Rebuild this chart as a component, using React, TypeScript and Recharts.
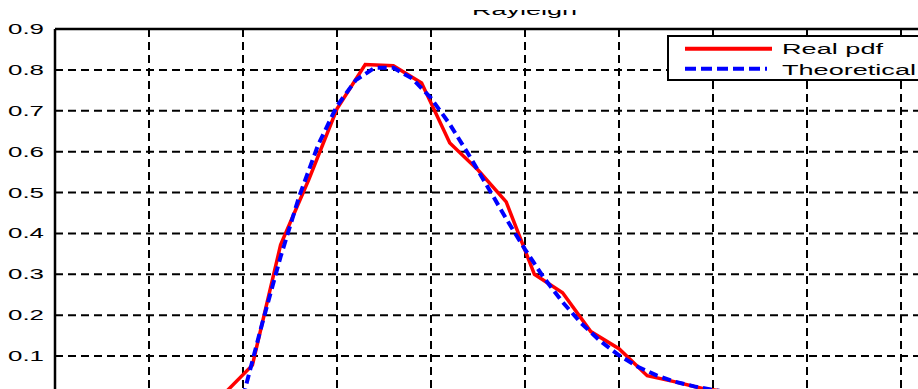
import React from 'react';
import { LineChart, Line, XAxis, YAxis, CartesianGrid, ReferenceLine } from 'recharts';

// Histogram-based estimate of the envelope pdf (bin centres and heights)
const realX = [-0.25, -0.1, 0.05, 0.2, 0.35, 0.5, 0.65, 0.8, 0.95, 1.1, 1.25, 1.4, 1.55, 1.7, 1.85, 2.0, 2.15, 2.3, 2.45, 2.6, 2.75, 2.9, 3.05, 3.2];
const realPdf = [0, 0.008, 0.078, 0.372, 0.532, 0.705, 0.813, 0.81, 0.768, 0.621, 0.555, 0.477, 0.3, 0.255, 0.16, 0.118, 0.052, 0.037, 0.02, 0.012, 0.007, 0.004, 0.002, 0.001];

// Theoretical Rayleigh density
const theoX = [0, 0.05, 0.1, 0.2, 0.3, 0.4, 0.5, 0.6, 0.7, 0.8, 0.9, 1.0, 1.1, 1.2, 1.3, 1.4, 1.5, 1.6, 1.7, 1.8, 1.9, 2.0, 2.1, 2.2, 2.3, 2.4, 2.5, 2.6, 2.7, 2.8, 2.9, 3.0];
const theoPdf = [0, 0.088, 0.176, 0.343, 0.492, 0.617, 0.712, 0.775, 0.805, 0.805, 0.779, 0.731, 0.667, 0.593, 0.515, 0.436, 0.361, 0.292, 0.232, 0.18, 0.137, 0.102, 0.074, 0.053, 0.037, 0.026, 0.017, 0.011, 0.007, 0.005, 0.003, 0.002];

const xTicks = [-1, -0.5, 0, 0.5, 1, 1.5, 2, 2.5, 3, 3.5, 4];
const yTicks = [0.1, 0.2, 0.3, 0.4, 0.5, 0.6, 0.7, 0.8, 0.9];

const titleText = 'Rayleigh';
const seriesNames = ['Real pdf', 'Theoretical'];

const realData = realX.map((x, i) => ({ x, y: realPdf[i] }));
const theoData = theoX.map((x, i) => ({ x, y: theoPdf[i] }));

const FONT = '"Liberation Sans", Arial, Helvetica, sans-serif';

const YTick = (props: any) => {
  const { y, payload } = props;
  const label = Number(payload.value).toFixed(1);
  const w = 36;
  return (
    <text
      x={44 - w}
      y={y}
      dy="0.36em"
      fontSize={14}
      fontFamily={FONT}
      fill="#000"
      textLength={w}
      lengthAdjust="spacingAndGlyphs"
    >
      {label}
    </text>
  );
};

// x tick labels sit below the plot's lower edge; keep the ticks for the grid only
const XTick = () => <g />;

export default function App() {
  return (
    <div
      style={{
        position: 'fixed',
        left: 0,
        top: 0,
        width: 918,
        height: 389,
        overflow: 'hidden',
        background: '#fff',
      }}
    >
      <LineChart width={1015} height={432} margin={{ top: 29, right: 20, bottom: 5, left: 0 }}>
        <CartesianGrid stroke="#000" strokeWidth={2} strokeDasharray="8 5" />
        <XAxis
          type="number"
          dataKey="x"
          domain={[-1, 4]}
          ticks={xTicks}
          allowDataOverflow
          height={30}
          tickLine={false}
          axisLine={{ stroke: '#000', strokeWidth: 2.5 }}
          tick={<XTick />}
        />
        <YAxis
          type="number"
          domain={[0, 0.9]}
          ticks={yTicks}
          allowDataOverflow
          width={55}
          tickLine={false}
          axisLine={{ stroke: '#000', strokeWidth: 2.5 }}
          tick={<YTick />}
        />
        <ReferenceLine y={0.9} stroke="#000" strokeWidth={2.5} />
        <ReferenceLine x={4} stroke="#000" strokeWidth={2.5} />
        <Line
          data={realData}
          dataKey="y"
          type="linear"
          stroke="#ff0000"
          strokeWidth={3.5}
          dot={false}
          isAnimationActive={false}
          name={seriesNames[0]}
        />
        <Line
          data={theoData}
          dataKey="y"
          type="linear"
          stroke="#0000ff"
          strokeWidth={4}
          strokeDasharray="9 5"
          dot={false}
          isAnimationActive={false}
          name={seriesNames[1]}
        />
      </LineChart>
      <svg
        width={918}
        height={389}
        style={{ position: 'absolute', left: 0, top: 0, pointerEvents: 'none' }}
      >
        <defs>
          <clipPath id="titleClip">
            <rect x={0} y={10} width={918} height={30} />
          </clipPath>
        </defs>
        <text
          x={472}
          y={15}
          fontSize={15.5}
          fontFamily={FONT}
          fill="#000"
          textLength={105}
          lengthAdjust="spacingAndGlyphs"
          clipPath="url(#titleClip)"
        >
          {titleText}
        </text>
        <rect x={668} y={36} width={290} height={44} fill="#fff" stroke="#000" strokeWidth={2} />
        <line x1={685} y1={48.7} x2={772} y2={48.7} stroke="#ff0000" strokeWidth={4} />
        <line x1={685} y1={68.8} x2={767} y2={68.8} stroke="#0000ff" strokeWidth={4} strokeDasharray="11 5" />
        <text x={782} y={54} fontSize={15.5} fontFamily={FONT} fill="#000" textLength={101} lengthAdjust="spacingAndGlyphs">
          {seriesNames[0]}
        </text>
        <text x={782} y={74.5} fontSize={15.5} fontFamily={FONT} fill="#000" textLength={134} lengthAdjust="spacingAndGlyphs">
          {seriesNames[1]}
        </text>
      </svg>
    </div>
  );
}
